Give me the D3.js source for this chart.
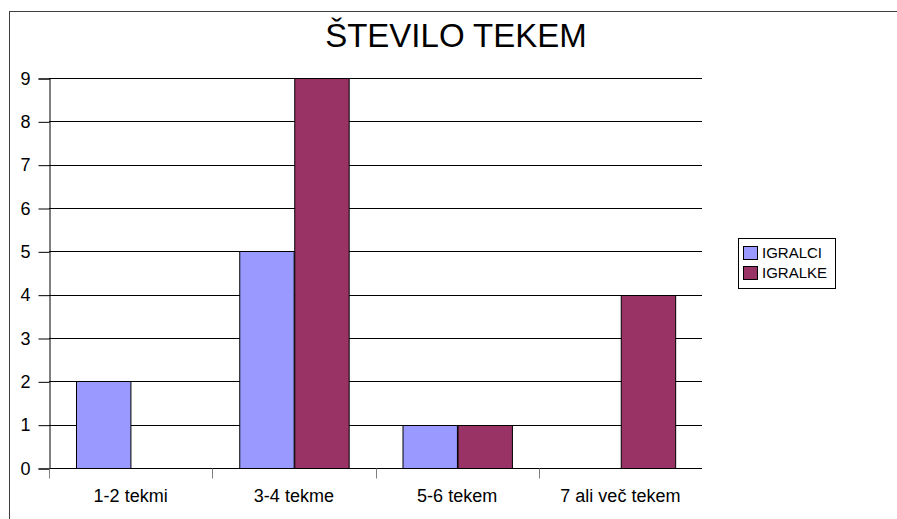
<!DOCTYPE html>
<html>
<head>
<meta charset="utf-8">
<script src="https://cdn.jsdelivr.net/npm/d3@7"></script>
<style>
  body { margin: 0; background: #fff; }
  svg { display: block; font-family: "Liberation Sans", Arial, sans-serif; }
</style>
</head>
<body>
<svg id="chart1" width="897" height="519"></svg>
<script>
let categories = ["1-2 tekmi", "3-4 tekme", "5-6 tekem", "7 ali več tekem"];
let seriesNames = ["IGRALCI", "IGRALKE"];
let igralci = [2, 5, 1, 0];
let igralke = [0, 9, 1, 4];
let colors = ["#9999ff", "#993366"];
let yTicks = [0, 1, 2, 3, 4, 5, 6, 7, 8, 9];

let margin = { left: 49, right: 702, top: 78, bottom: 468 };

let svg = d3.select("#chart1");

// outer frame
svg.append("rect")
  .attr("x", 9.5).attr("y", 11.5)
  .attr("width", 900).attr("height", 520)
  .attr("fill", "#fff").attr("stroke", "#404040").attr("stroke-width", 1);

svg.append("text")
  .attr("x", 456).attr("y", 47)
  .attr("text-anchor", "middle")
  .style("font-size", "33px")
  .text("ŠTEVILO TEKEM");

let xBand = d3.scaleBand().domain(categories).range([margin.left, margin.right]);
let xInner = d3.scaleBand().domain(seriesNames)
  .range([0, xBand.bandwidth()]).paddingOuter(0.5);
let yLinear = d3.scaleLinear().domain([0, 9]).range([margin.bottom, margin.top]);

// gridlines
svg.append("g")
  .selectAll("line")
  .data(yTicks.slice(1))
  .join("line")
  .attr("x1", margin.left).attr("x2", margin.right)
  .attr("y1", d => Math.round(yLinear(d)) + 0.5)
  .attr("y2", d => Math.round(yLinear(d)) + 0.5)
  .attr("stroke", "#000").attr("stroke-width", 1);

// bars
let data = categories.map((c, i) => ({ cat: c, values: [igralci[i], igralke[i]] }));
svg.append("g")
  .selectAll("g")
  .data(data)
  .join("g")
  .attr("transform", d => "translate(" + xBand(d.cat) + ",0)")
  .selectAll("rect")
  .data(d => d.values.map((v, j) => ({ name: seriesNames[j], v: v, j: j })))
  .join("rect")
  .attr("x", d => Math.round(xInner(d.name)) + 0.5)
  .attr("width", xInner.bandwidth())
  .attr("y", d => Math.round(yLinear(d.v)) + 0.5)
  .attr("height", d => Math.round(yLinear(0)) - Math.round(yLinear(d.v)))
  .attr("fill", d => colors[d.j])
  .attr("stroke", "#000").attr("stroke-width", 1);

// y axis
let yAxis = d3.axisLeft(yLinear).tickValues(yTicks).tickSize(11).tickPadding(8).tickFormat(d3.format("d"));
let yG = svg.append("g")
  .attr("transform", "translate(" + (margin.left + 0.5) + ",0.5)")
  .call(yAxis);
yG.select(".domain").attr("stroke", "#000");
yG.selectAll("text").style("font-size", "18px").attr("fill", "#000");

// x axis
let xAxis = d3.axisBottom(xBand).tickSize(0).tickPadding(21);
let xG = svg.append("g")
  .attr("transform", "translate(0," + (margin.bottom + 0.5) + ")")
  .call(xAxis);
xG.select(".domain").attr("d", "M" + margin.left + ",0H" + margin.right).attr("stroke", "#000");
xG.selectAll("text").style("font-size", "18px").attr("fill", "#000");
xG.selectAll(".sep")
  .data(categories)
  .join("line")
  .attr("class", "sep")
  .attr("x1", d => Math.round(xBand(d)) + 0.5).attr("x2", d => Math.round(xBand(d)) + 0.5)
  .attr("y1", 0).attr("y2", 10)
  .attr("stroke", "#808080");

// legend
let legend = svg.append("g").attr("transform", "translate(738,238)");
legend.append("rect")
  .attr("x", 0.5).attr("y", 0.5).attr("width", 97).attr("height", 50)
  .attr("fill", "#fff").attr("stroke", "#000");
let items = legend.selectAll("g.item")
  .data(seriesNames)
  .join("g")
  .attr("class", "item")
  .attr("transform", (d, i) => "translate(5," + (8 + i * 20) + ")");
items.append("rect")
  .attr("x", 0.5).attr("y", 0.5).attr("width", 14).attr("height", 13)
  .attr("fill", (d, i) => colors[i]).attr("stroke", "#000");
items.append("text")
  .attr("x", 19).attr("y", 12)
  .style("font-size", "15px")
  .text(d => d);
</script>
</body>
</html>
